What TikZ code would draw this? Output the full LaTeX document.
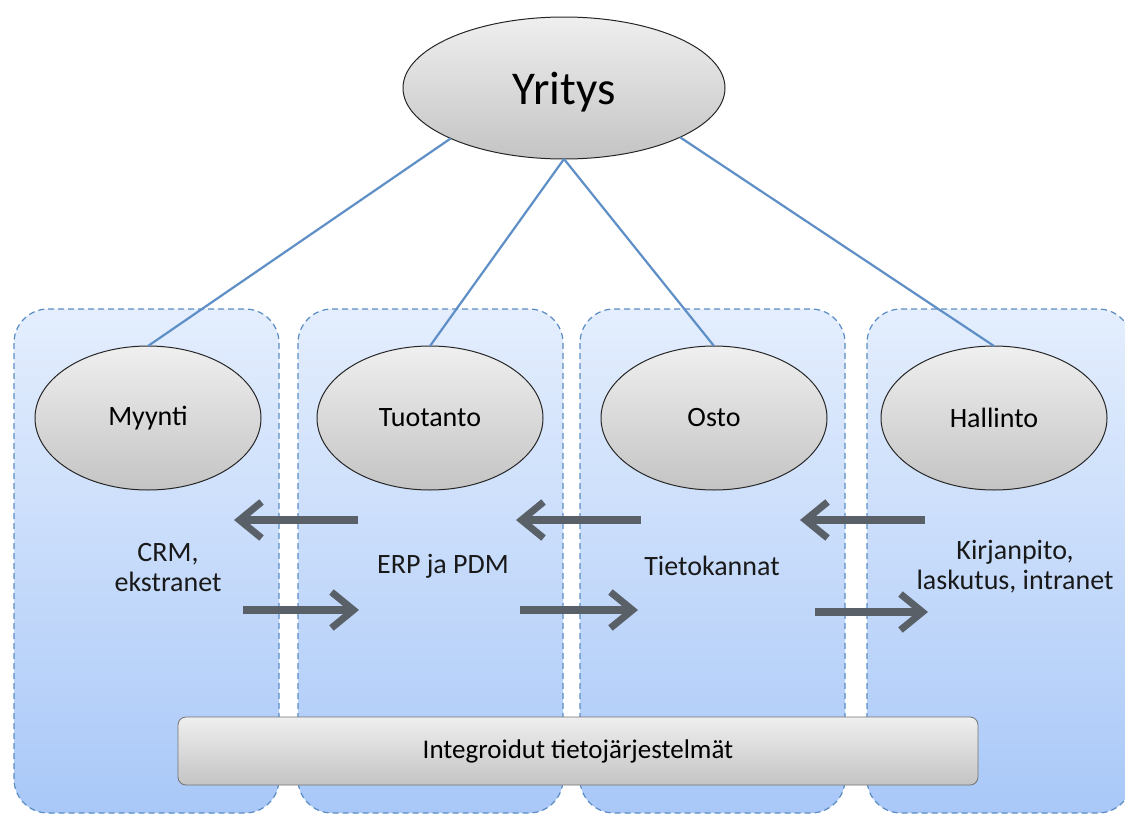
\documentclass[tikz,border=0pt]{standalone}
\usepackage{fontspec}
\setmainfont{Carlito}
\usetikzlibrary{shapes.geometric,arrows.meta}
\definecolor{colborder}{HTML}{5B8DC4}
\definecolor{coltop}{HTML}{E4EEFD}
\definecolor{colbot}{HTML}{A9C8F8}
\definecolor{linkblue}{HTML}{5E8FC6}
\definecolor{arrgray}{HTML}{5A6068}
\definecolor{eltop}{HTML}{EFEFEF}
\definecolor{elbot}{HTML}{C4C4C4}
\tikzset{
  colbox/.style={draw=colborder, dash pattern=on 6pt off 4pt, line width=1.2pt, rounded corners=34pt, top color=coltop, bottom color=colbot},
  unit/.style={ellipse, draw=black!85, line width=1pt, top color=eltop, bottom color=elbot, minimum width=226pt, minimum height=144pt, font=\fontsize{28}{32}\selectfont, inner sep=0pt, outer sep=0pt},
  link/.style={draw=linkblue, line width=2.2pt},
  flow/.style={draw=arrgray, line width=7.5pt, -{Straight Barb[length=22pt,width=36pt,line width=7pt]}},
  lab/.style={align=center, font=\fontsize{28}{30}\selectfont, text=black!90},
  bar/.style={draw=black!55, line width=0.8pt, rounded corners=8pt, top color=eltop, bottom color=elbot, minimum width=800pt, minimum height=68pt, font=\fontsize{27}{30}\selectfont}
}
\begin{document}
\begin{tikzpicture}[x=1pt,y=-1pt]
\useasboundingbox (0,0) rectangle (1125,814);
\fill[white] (0,0) rectangle (1125,814);
\begin{scope}
\clip (0,0) rectangle (1125,814);
\path[colbox] (14,309) rectangle (279,813);
\path[colbox] (298,309) rectangle (563,813);
\path[colbox] (580,309) rectangle (845,813);
\path[colbox] (867,309) rectangle (1132,813);
\end{scope}
\node[unit, minimum width=322pt, minimum height=142pt, font=\fontsize{47}{50}\selectfont] (yr) at (564,88) {\raisebox{-16pt}[0pt][0pt]{Yritys}};
\node[unit] (my) at (148,418) {Myynti};
\node[unit] (tu) at (430,418) {Tuotanto};
\node[unit] (os) at (714,418) {Osto};
\node[unit] (ha) at (994,418) {Hallinto};
\draw[link] (yr.-156) -- (my.north);
\draw[link] (yr.south) -- (tu.north);
\draw[link] (yr.south) -- (os.north);
\draw[link] (yr.-23) -- (ha.north);
\node[lab] (crm) at (168,568) {CRM,\\ekstranet};
\node[lab] (erp) at (443,566) {ERP ja PDM};
\node[lab] (tk) at (712,566) {Tietokannat};
\node[lab] (kp) at (1015,567) {Kirjanpito,\\laskutus, intranet};
\coordinate (a1s) at (358,520); \coordinate (a1e) at (234,520);
\coordinate (a2s) at (641,520); \coordinate (a2e) at (516,520);
\coordinate (a3s) at (925,520); \coordinate (a3e) at (800,520);
\coordinate (b1s) at (243,610); \coordinate (b1e) at (359,610);
\coordinate (b2s) at (520,610); \coordinate (b2e) at (638,610);
\coordinate (b3s) at (815,612); \coordinate (b3e) at (928,612);
\draw[flow] (a1s) -- (a1e);
\draw[flow] (a2s) -- (a2e);
\draw[flow] (a3s) -- (a3e);
\draw[flow] (b1s) -- (b1e);
\draw[flow] (b2s) -- (b2e);
\draw[flow] (b3s) -- (b3e);
\node[bar] (it) at (578,751) {Integroidut tietojärjestelmät};
\end{tikzpicture}
\end{document}
